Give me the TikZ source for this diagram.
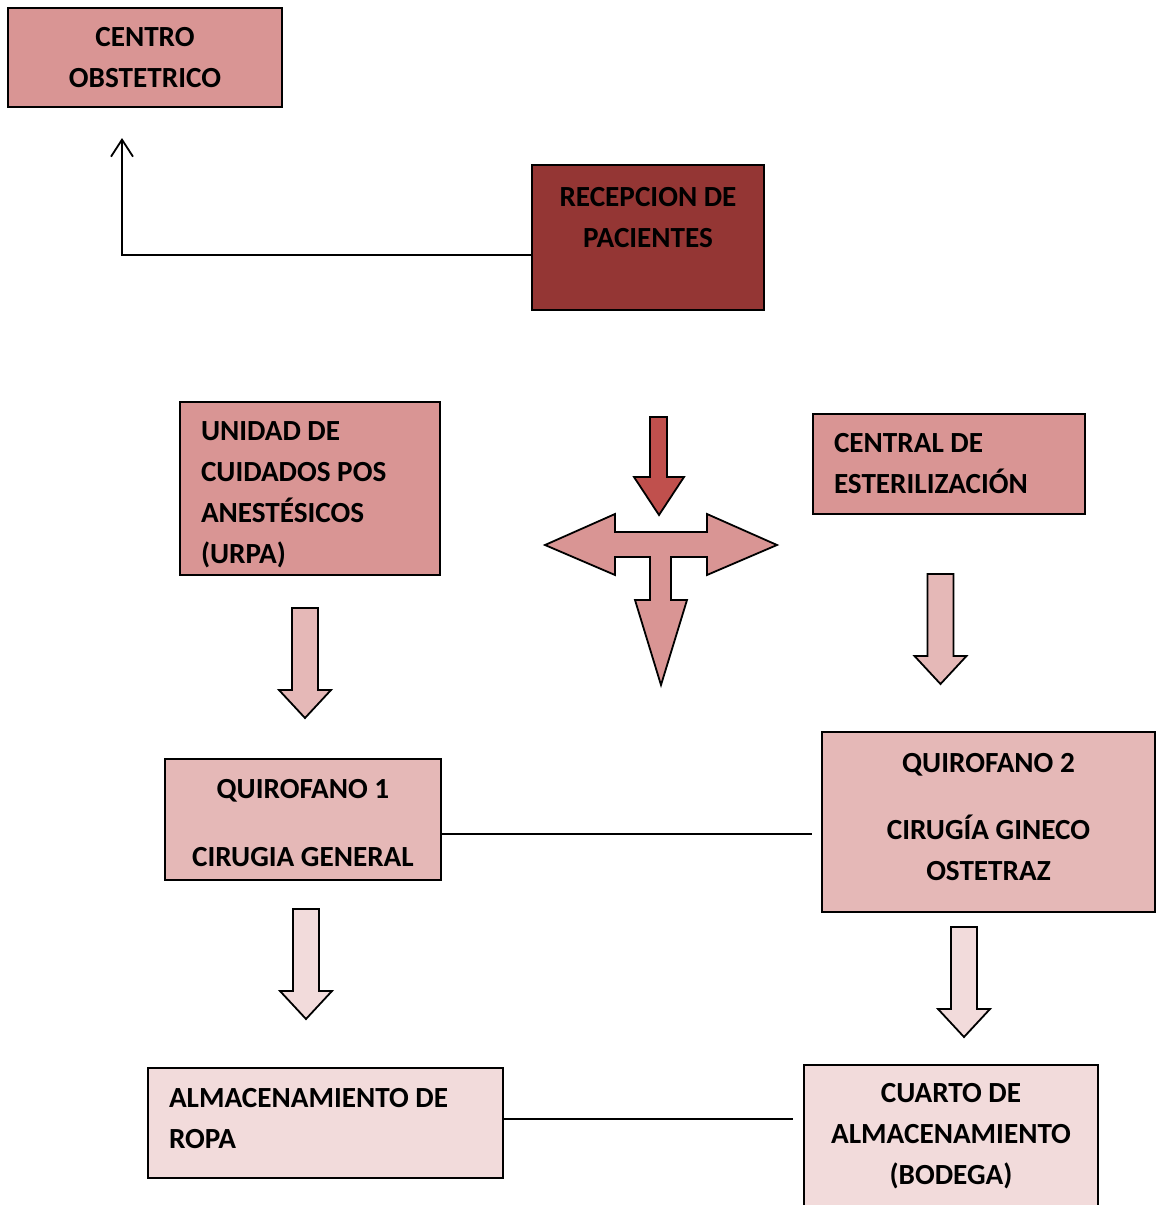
\documentclass[tikz,border=0pt]{standalone}
\usepackage{fontspec}
\setmainfont{Carlito}
\usetikzlibrary{positioning,arrows.meta}
\definecolor{rosa}{HTML}{D99594}
\definecolor{granate}{HTML}{943634}
\definecolor{rojo}{HTML}{C0504D}
\definecolor{rosaclaro}{HTML}{E5B8B7}
\definecolor{rosapalido}{HTML}{F2DBDB}
\tikzset{
  caja/.style={shape=rectangle,draw=black,line width=2pt,
    font=\fontsize{29.2}{41}\selectfont\bfseries},
  cajaizq/.style={caja,align=flush left,inner xsep=21pt},
  cajacen/.style={caja,align=center},
  linea/.style={draw=black,line width=1.8pt},
  flecha/.pic={
    \draw[pic actions] (-13,0) -- (13,0) -- (13,82) -- (26,82) -- (0,110)
      -- (-26,82) -- (-13,82) -- cycle;
  }
}

\begin{document}
\begin{tikzpicture}[x=1pt,y=-1pt]
  \useasboundingbox (0,0) rectangle (1156,1205);
  % cajas
  \node (centro) [cajacen,fill=rosa,minimum width=274pt,minimum height=99pt]
    at (145,57.5) {CENTRO\\OBSTETRICO};
  \node (recep) [cajacen,fill=granate,minimum width=232pt,minimum height=145pt]
    at (648,237.5) {RECEPCION DE\\PACIENTES\\~};
  \node (urpa) [cajaizq,fill=rosa,text width=218pt,minimum height=173pt]
    at (310,488.5) {\rule{0pt}{30.8pt}UNIDAD DE\\CUIDADOS POS\\ANESTÉSICOS\\(URPA)};
  \node (central) [cajaizq,fill=rosa,text width=230pt,minimum height=100pt]
    at (949,464) {CENTRAL DE\\ESTERILIZACIÓN};
  \node (q1) [cajacen,fill=rosaclaro,minimum width=276pt,minimum height=121pt]
    at (303,819.5) {\rule{0pt}{26.8pt}QUIROFANO 1\\[27pt]CIRUGIA GENERAL};
  \node (q2) [cajacen,fill=rosaclaro,minimum width=333pt,minimum height=180pt]
    at (988.5,822) {QUIROFANO 2\\[26pt]CIRUGÍA GINECO\\OSTETRAZ\rule[-10.6pt]{0pt}{10.6pt}};
  \node (ropa) [cajaizq,fill=rosapalido,text width=313pt,minimum height=110pt]
    at (325.5,1123) {ALMACENAMIENTO DE\\ROPA\rule[-10pt]{0pt}{10pt}};
  \node (bodega) [cajacen,fill=rosapalido,minimum width=294pt,minimum height=142pt]
    at (951,1136) {CUARTO DE\\ALMACENAMIENTO\\(BODEGA)};

  % conectores
  \coordinate (codo) at (122,255);
  \coordinate (punta) at (122,138);
  \draw[linea,-{Straight Barb[length=17pt,width=22pt,line width=1.8pt]}]
    (recep.west |- codo) -- (codo) -- (punta);
  \coordinate (q1q2) at (812,834);
  \draw[linea] (q1.east |- q1q2) -- (q1q2);
  \coordinate (ropafin) at (793,1119);
  \draw[linea] (ropa.east |- ropafin) -- (ropafin);

  % flechas de bloque
  \draw[linea,fill=rojo] (650,417) -- (667,417) -- (667,477) -- (684,477)
    -- (659,515) -- (634,477) -- (650,477) -- cycle;
  \draw[linea,fill=rosa] (545,545) -- (615,514) -- (615,532) -- (707,532)
    -- (707,514) -- (777,545) -- (707,575) -- (707,557) -- (671,557)
    -- (671,600) -- (687,600) -- (661,685) -- (635,600) -- (650,600)
    -- (650,557) -- (615,557) -- (615,575) -- cycle;
  \pic[linea,fill=rosaclaro] at (305,608) {flecha};
  \pic[linea,fill=rosaclaro] at (940.5,574) {flecha};
  \pic[linea,fill=rosapalido] at (306,909) {flecha};
  \pic[linea,fill=rosapalido] at (964,927) {flecha};
\end{tikzpicture}
\end{document}
